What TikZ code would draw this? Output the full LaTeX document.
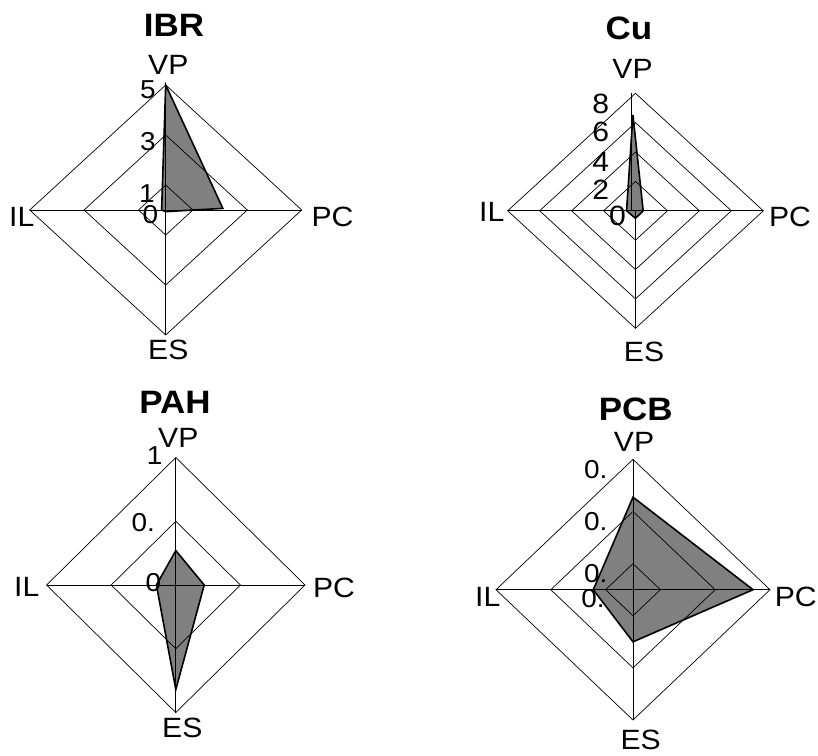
\documentclass[tikz,border=0pt]{standalone}
\usepackage{fontspec}
\setmainfont{Liberation Sans}[FakeStretch=1.08]
\tikzstyle{gridline} = [draw=black, line width=0.7bp]
\tikzstyle{datafill} = [fill=gray]
\tikzstyle{dataline} = [draw=black, line width=1.6bp, line join=miter]
\tikzstyle{axislabel} = [inner sep=0pt, font=\fontsize{28}{28}\selectfont]
\tikzstyle{ticklabel} = [inner sep=0pt, font=\fontsize{26}{26}\selectfont]
\tikzstyle{charttitle} = [inner sep=0pt, font=\bfseries\fontsize{32.5}{32.5}\selectfont]

\begin{document}
\begin{tikzpicture}[x=1bp, y=-1bp]
\useasboundingbox (0,0) rectangle (818,756);

% IBR
\begin{scope}[shift={(165.7,210)}, x=136bp, y=125bp]
  \fill[datafill] (0,1) -- (0.42,0.013) -- (0,-0.013) -- (-0.03,0) -- cycle;
  \foreach \r in {0.2,0.6,1}
    \draw[gridline] (0,\r) -- (\r,0) -- (0,-\r) -- (-\r,0) -- cycle;
  \draw[gridline] (0,1) -- (0,-1) (-1,0) -- (1,0);
  \draw[dataline] (0,1) -- (0.42,0.013) -- (0,-0.013) -- (-0.03,0) -- cycle;
\end{scope}
\node[charttitle] (ibr)   at (174,25)    {IBR};
\node[axislabel]  (ibrVP) at (168.3,65)  {VP};
\node[axislabel]  (ibrPC) at (332.5,216.7) {PC};
\node[axislabel]  (ibrES) at (168.3,350) {ES};
\node[axislabel]  (ibrIL) at (21.7,216.7) {IL};
\node[ticklabel]  (ibr5)  at (148,90)    {5};
\node[ticklabel]  (ibr3)  at (148,141.7) {3};
\node[ticklabel]  (ibr1)  at (147,193.7) {1};
\node[ticklabel]  (ibr0)  at (150.5,215) {0};

% Cu
\begin{scope}[shift={(635.5,210.8)}, x=127.8bp, y=117.5bp]
  \fill[datafill] (-0.02,0.816) -- (0.06,0) -- (0,-0.064) -- (-0.07,0) -- cycle;
  \foreach \r in {0.25,0.5,0.75,1}
    \draw[gridline] (0,\r) -- (\r,0) -- (0,-\r) -- (-\r,0) -- cycle;
  \draw[gridline] (-0.035,1) -- (-0.035,0) (0,0) -- (0,-1) (-1,0) -- (1,0);
  \draw[dataline] (-0.02,0.816) -- (0.06,0) -- (0,-0.064) -- (-0.07,0) -- cycle;
\end{scope}
\node[charttitle] (cu)   at (629,28.3)   {Cu};
\node[axislabel]  (cuVP) at (632.5,69)   {VP};
\node[axislabel]  (cuPC) at (790,216.7)  {PC};
\node[axislabel]  (cuES) at (644,352.3)  {ES};
\node[axislabel]  (cuIL) at (491.7,211.7) {IL};
\node[ticklabel, font=\fontsize{28}{28}\selectfont] (cu8) at (600.7,104)   {8};
\node[ticklabel, font=\fontsize{28}{28}\selectfont] (cu6) at (600.7,132)   {6};
\node[ticklabel, font=\fontsize{28}{28}\selectfont] (cu4) at (600.7,161.7) {4};
\node[ticklabel, font=\fontsize{28}{28}\selectfont] (cu2) at (600.7,190)   {2};
\node[ticklabel, font=\fontsize{28}{28}\selectfont] (cu0) at (617.5,215.8) {0};

% PAH
\begin{scope}[shift={(175.8,585)}, x=129.2bp, y=127.5bp]
  \fill[datafill] (0,0.27) -- (0.22,0) -- (0,-0.82) -- (-0.15,0) -- cycle;
  \foreach \r in {0.5,1}
    \draw[gridline] (0,\r) -- (\r,0) -- (0,-\r) -- (-\r,0) -- cycle;
  \draw[gridline] (0,1) -- (0,-1) (-1,0) -- (1,0);
  \draw[dataline] (0,0.27) -- (0.22,0) -- (0,-0.82) -- (-0.15,0) -- cycle;
\end{scope}
\node[charttitle] (pah)   at (175,402.3)   {PAH};
\node[axislabel]  (pahVP) at (178.3,438.3) {VP};
\node[axislabel]  (pahPC) at (334,588.3)   {PC};
\node[axislabel]  (pahES) at (182.3,728.3) {ES};
\node[axislabel]  (pahIL) at (26.7,586.7)  {IL};
\node[ticklabel]  (pah1)  at (154.7,455.7) {1};
\node[ticklabel]  (pah5)  at (143.3,523)   {0.};
\node[ticklabel]  (pah0)  at (153.3,582.7) {0};

% PCB
\begin{scope}[shift={(633,589.7)}, x=137bp, y=130.3bp]
  \fill[datafill] (0,0.71) -- (0.876,0) -- (0,-0.40) -- (-0.29,0) -- cycle;
  \foreach \r in {0.2,0.6,1}
    \draw[gridline] (0,\r) -- (\r,0) -- (0,-\r) -- (-\r,0) -- cycle;
  \draw[gridline] (0,1) -- (0,-1) (-1,0) -- (1,0);
  \draw[dataline] (0,0.71) -- (0.876,0) -- (0,-0.40) -- (-0.29,0) -- cycle;
\end{scope}
\node[charttitle] (pcb)   at (635.7,409)   {PCB};
\node[axislabel]  (pcbVP) at (634,442.3)   {VP};
\node[axislabel]  (pcbPC) at (795.7,596.7) {PC};
\node[axislabel]  (pcbES) at (640.7,740)   {ES};
\node[axislabel]  (pcbIL) at (487.7,596.7) {IL};
\node[ticklabel]  (pcbA)  at (595.7,470)   {0.};
\node[ticklabel]  (pcbB)  at (595.7,521.7) {0.};
\node[ticklabel]  (pcbC)  at (595.7,574)   {0.};
\node[ticklabel]  (pcbD)  at (593,599)     {0.};
\end{tikzpicture}
\end{document}
